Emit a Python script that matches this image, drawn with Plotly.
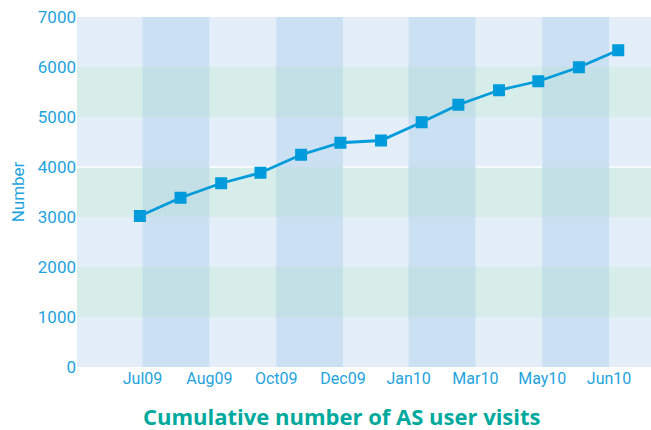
import plotly.graph_objects as go

# datos: visitas acumuladas por mes
meses = ["2009-07-01", "2009-08-01", "2009-09-01", "2009-10-01", "2009-11-01",
         "2009-12-01", "2010-01-01", "2010-02-01", "2010-03-01", "2010-04-01",
         "2010-05-01", "2010-06-01", "2010-07-01"]
visitas = [3020, 3385, 3675, 3885, 4245, 4485, 4530, 4895, 5245, 5535, 5715, 5995, 6335]

# eje de fechas (estilo Excel, unidad mayor ~51 dias)
tick_fechas = ["2009-07-03", "2009-08-23", "2009-10-13", "2009-12-03",
               "2010-01-22", "2010-03-14", "2010-05-04", "2010-06-24"]
tick_textos = ["Jul09", "Aug09", "Oct09", "Dec09", "Jan10", "Mar10", "May10", "Jun10"]
rango_x = ["2009-05-14", "2010-07-26"]
y_ticks = [0, 1000, 2000, 3000, 4000, 5000, 6000, 7000]

AZUL = "#009bdb"
TEXTO = "#1ea3dd"
FONDO = "#e4eef9"
COL_OSCURA = "#cce0f3"
FILA_VERDE = "#d7edea"
CRUCE = "#c2e0e6"

fig = go.Figure()
fig.add_trace(go.Scatter(
    x=meses, y=visitas, mode="lines+markers",
    line=dict(color=AZUL, width=2.8),
    marker=dict(symbol="square", size=12, color=AZUL),
    showlegend=False
))

# bandas de fondo
bordes = [rango_x[0]] + tick_fechas + [rango_x[1]]
columnas = [(bordes[i], bordes[i + 1]) for i in range(1, len(bordes) - 1, 2)]
filas = [(1000, 2000), (3000, 4000), (5000, 6000)]
for x0, x1 in columnas:
    fig.add_shape(type="rect", xref="x", yref="y", x0=x0, x1=x1, y0=0, y1=7000,
                  fillcolor=COL_OSCURA, line_width=0, layer="below")
for y0, y1 in filas:
    fig.add_shape(type="rect", xref="paper", yref="y", x0=0, x1=1, y0=y0, y1=y1,
                  fillcolor=FILA_VERDE, line_width=0, layer="below")
    for x0, x1 in columnas:
        fig.add_shape(type="rect", xref="x", yref="y", x0=x0, x1=x1, y0=y0, y1=y1,
                      fillcolor=CRUCE, line_width=0, layer="below")
fig.add_shape(type="line", xref="paper", yref="y", x0=0, x1=1, y0=4000, y1=4000,
              line=dict(color="white", width=1.5), layer="below")

fig.add_annotation(
    text="<b>Cumulative number of AS user visits</b>",
    xref="paper", yref="paper", x=0.4617, y=-0.14, xanchor="center", yanchor="middle",
    showarrow=False, font=dict(family="Open Sans", size=22, color="#00a99d")
)

fig.update_layout(
    width=651, height=430,
    margin=dict(l=77, r=0, t=17, b=63, autoexpand=False),
    paper_bgcolor="white", plot_bgcolor=FONDO,
    font=dict(family="Roboto", color=TEXTO, size=16),
    xaxis=dict(type="date", range=rango_x, tickvals=tick_fechas, ticktext=tick_textos,
               showgrid=False, zeroline=False, showline=False, ticks="", automargin=False,
               tickfont=dict(size=16, color=TEXTO)),
    yaxis=dict(range=[0, 7000], tickvals=y_ticks, showgrid=False, zeroline=False,
               showline=False, ticks="", automargin=False, tickfont=dict(size=17, color=TEXTO),
               title=dict(text="Number", font=dict(size=17, color=TEXTO), standoff=8)),
)

# sin margen del body para que la figura ocupe la ventana exacta
fig.write_html("out.html", config={"displayModeBar": False},
               post_script="document.body.style.margin='0';")
